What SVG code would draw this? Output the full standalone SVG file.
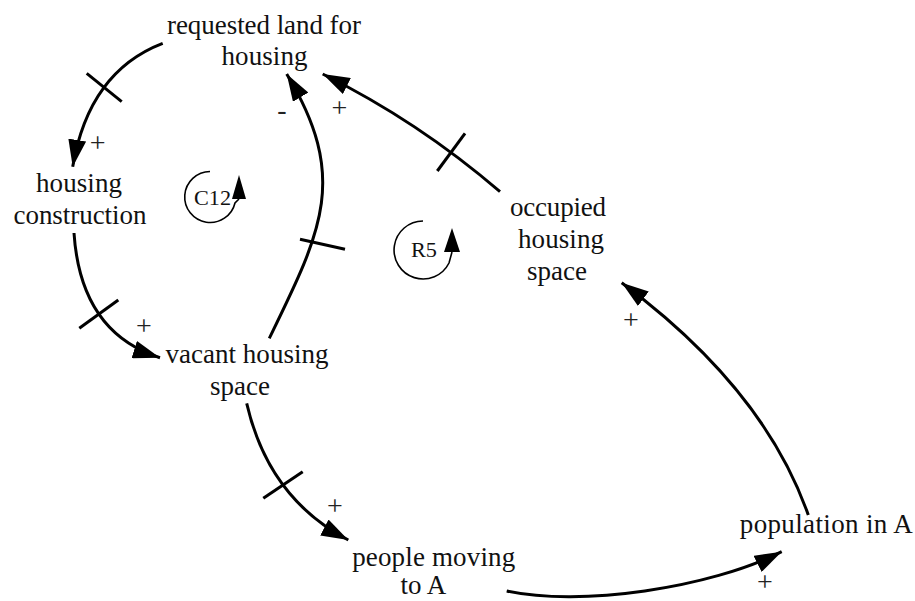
<svg xmlns="http://www.w3.org/2000/svg" width="915" height="601" viewBox="0 0 915 601">
  <style>
    .lbl { font-family: "Liberation Serif", "Times New Roman", serif; font-size: 27px; fill: #111; text-anchor: middle; }
    .loop { font-family: "Liberation Serif", "Times New Roman", serif; font-size: 21px; fill: #111; text-anchor: middle; }
    .sign { font-family: "Liberation Serif", "Times New Roman", serif; font-size: 28px; fill: #222; text-anchor: middle; }
    .link { fill: none; stroke: #000; stroke-width: 3; marker-end: url(#head); }
    .tick { stroke: #000; stroke-width: 3; }
    .ring { fill: none; stroke: #000; stroke-width: 1.6; }
  </style>
  <defs>
    <marker id="head" markerUnits="userSpaceOnUse" viewBox="0 0 27 18" markerWidth="27" markerHeight="18" refX="27" refY="9" orient="auto">
      <path d="M0,0 L27,9 L0,18 z" fill="#000"/>
    </marker>
  </defs>

  <rect width="915" height="601" fill="#fff"/>

  <!-- causal links -->
  <g id="links">
    <path class="link" d="M162.7,43.3 Q88.9,71.6 72.7,166.7"/>
    <line class="tick" x1="86.7" y1="73.3" x2="121.7" y2="101.7"/>

    <path class="link" d="M74,233 Q80.6,332.6 160,357.7"/>
    <line class="tick" x1="79.3" y1="328.3" x2="118.3" y2="300"/>

    <path class="link" d="M269.3,338.3 C322.1,230.3 349.1,177.2 286.7,74"/>
    <line class="tick" x1="300" y1="239.3" x2="345" y2="249.3"/>

    <path class="link" d="M500,191.7 Q418.8,121.7 322.7,74"/>
    <line class="tick" x1="465" y1="133.3" x2="437.3" y2="171"/>

    <path class="link" d="M246.7,403.3 Q268.5,498.3 348.3,540"/>
    <line class="tick" x1="263.3" y1="498.3" x2="302.7" y2="471.7"/>

    <path class="link" d="M506.7,591 C580,607 710,588 781.7,551.7"/>

    <path class="link" d="M808.3,515 Q763.9,388.3 621.7,282.7"/>
  </g>

  <!-- polarity signs -->
  <g id="signs">
    <text class="sign" x="97.7" y="152">+</text>
    <text class="sign" x="282" y="119">-</text>
    <text class="sign" x="339.3" y="117">+</text>
    <text class="sign" x="144" y="335">+</text>
    <text class="sign" x="335" y="515">+</text>
    <text class="sign" x="631" y="329">+</text>
    <text class="sign" x="765" y="591">+</text>
  </g>

  <!-- loop markers -->
  <g id="loop-C12">
    <path class="ring" d="M210,171.5 A25.5,25.5 0 1 0 235,203 L239,199"/>
    <path d="M239,175 L246,199 L232,199 z" fill="#000"/>
    <text class="loop" x="212.5" y="205" textLength="37" lengthAdjust="spacingAndGlyphs">C12</text>
  </g>
  <g id="loop-R5">
    <path class="ring" d="M423,221 A29,29 0 1 0 449,263 L452,252"/>
    <path d="M452,228 L460,252 L444,252 z" fill="#000"/>
    <text class="loop" x="424" y="257" textLength="26" lengthAdjust="spacingAndGlyphs">R5</text>
  </g>

  <!-- variables -->
  <g id="requested-land">
    <text class="lbl" x="264" y="34" textLength="194">requested land for</text>
    <text class="lbl" x="264.5" y="65" textLength="86">housing</text>
  </g>
  <g id="housing-construction">
    <text class="lbl" x="79" y="192" textLength="86">housing</text>
    <text class="lbl" x="80" y="224" textLength="133">construction</text>
  </g>
  <g id="vacant-housing">
    <text class="lbl" x="247" y="363" textLength="163">vacant housing</text>
    <text class="lbl" x="240" y="395" textLength="60">space</text>
  </g>
  <g id="occupied-housing">
    <text class="lbl" x="558" y="216" textLength="96">occupied</text>
    <text class="lbl" x="561" y="248" textLength="86">housing</text>
    <text class="lbl" x="557" y="280" textLength="60">space</text>
  </g>
  <g id="people-moving">
    <text class="lbl" x="433.7" y="566" textLength="163">people moving</text>
    <text class="lbl" x="423.3" y="594">to A</text>
  </g>
  <g id="population">
    <text class="lbl" x="826.3" y="533" textLength="173">population in A</text>
  </g>
</svg>
